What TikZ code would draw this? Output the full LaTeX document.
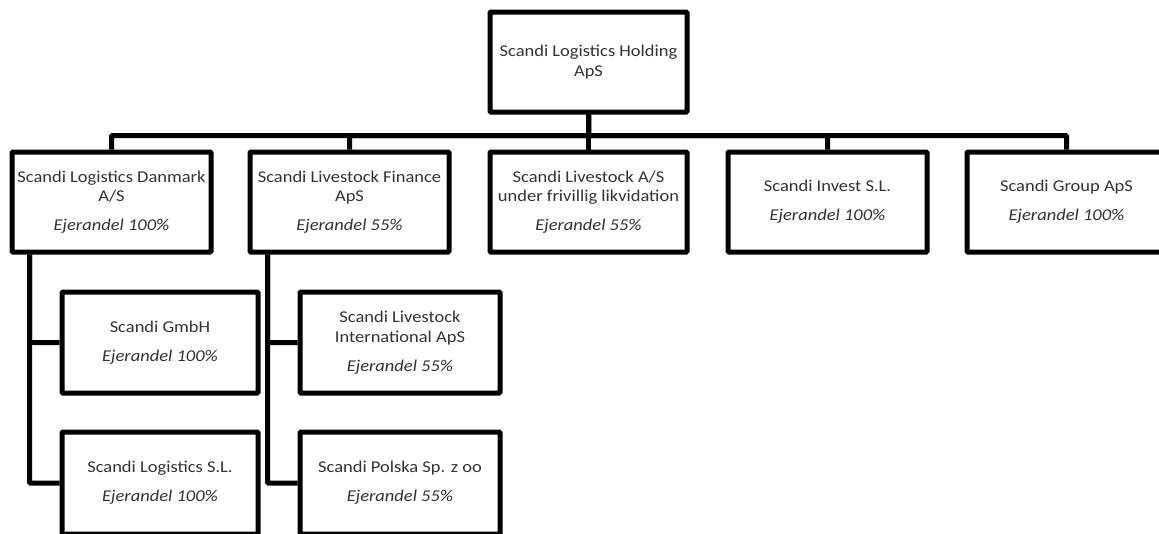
\documentclass[tikz,border=0pt]{standalone}
\usepackage{fontspec}
\setmainfont{Carlito}[FakeStretch=1.12]
\begin{document}
\begin{tikzpicture}[x=1pt,y=-1pt,
  box/.style={draw=black, line width=5pt, rounded corners=1pt, fill=white,
    inner sep=0pt, align=center, text=black!80,
    font=\fontsize{16.5}{19.5}\selectfont,
    minimum width=199pt, minimum height=100pt},
  conn/.style={draw=black, line width=5pt, rounded corners=1pt}
]
\useasboundingbox (0,0) rectangle (1159,533);
\clip (0,0) rectangle (1159,533);

% top
\node[box, minimum width=197pt] (top) at (588.5,62) {Scandi Logistics Holding\\ApS};

% level 1
\node[box] (b1) at (111.5,202) {Scandi Logistics Danmark\\A/S\\[9.5pt]\textit{Ejerandel 100\%}};
\node[box] (b2) at (349.5,202) {Scandi Livestock Finance\\ApS\\[9.5pt]\textit{Ejerandel 55\%}};
\node[box, minimum width=197pt] (b3) at (588.5,202) {Scandi Livestock A/S\\under frivillig likvidation\\[9.5pt]\textit{Ejerandel 55\%}};
\node[box] (b4) at (827.5,202) {Scandi Invest S.L.\\[9.5pt]\textit{Ejerandel 100\%}};
\node[box] (b5) at (1066.5,202) {Scandi Group ApS\\[9.5pt]\textit{Ejerandel 100\%}};

% level 2
\node[box, minimum width=196pt, minimum height=101pt] (gmbh) at (160,342.5) {Scandi GmbH\\[9.5pt]\textit{Ejerandel 100\%}};
\node[box, minimum width=196pt, minimum height=102pt] (sl) at (160,483) {Scandi Logistics S.L.\\[9.5pt]\textit{Ejerandel 100\%}};
\node[box, minimum width=200pt, minimum height=101pt] (intl) at (400,342.5) {Scandi Livestock\\International ApS\\[9.5pt]\textit{Ejerandel 55\%}};
\node[box, minimum width=200pt, minimum height=102pt] (pol) at (400,483) {Scandi Polska Sp. z oo\\[9.5pt]\textit{Ejerandel 55\%}};

% connectors from top
\foreach \c in {b1,b2,b3,b4,b5}
  \draw[conn] (top.south) -- ++(0,21) -| (\c.north);

% level 2 connectors
\draw[conn] ([xshift=20pt]b1.south west) |- (sl.west);
\draw[conn] ([xshift=20pt]b1.south west) |- (gmbh.west);
\draw[conn] ([xshift=20pt]b2.south west) |- (pol.west);
\draw[conn] ([xshift=20pt]b2.south west) |- (intl.west);
\end{tikzpicture}
\end{document}
